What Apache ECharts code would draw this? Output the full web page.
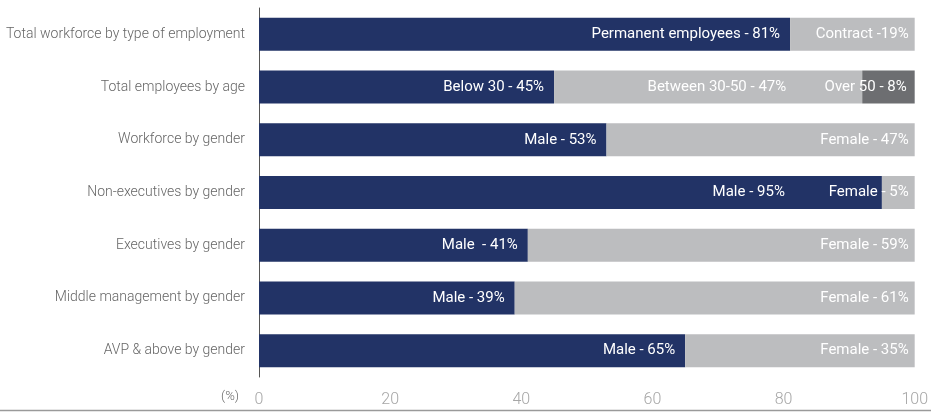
<!DOCTYPE html>
<html>
<head>
<meta charset="utf-8">
<script src="https://cdn.jsdelivr.net/npm/echarts@6/dist/echarts.min.js"></script>
<style>
html,body{margin:0;padding:0;background:#fff;}
#chart{width:931px;height:412px;}
</style>
</head>
<body>
<div id="chart"></div>
<script>
// ---- data ----
var categories = [
  'Total workforce by type of employment',
  'Total employees by age',
  'Workforce by gender',
  'Non-executives by gender',
  'Executives by gender',
  'Middle management by gender',
  'AVP & above by gender'
];
var seg1Values = [81, 45, 53, 95, 41, 39, 65];
var seg2Values = [19, 47, 47, 5, 59, 61, 35];
var seg3Values = [0, 8, 0, 0, 0, 0, 0];
var seg1Labels = ['Permanent employees - 81%', 'Below 30 - 45%', 'Male - 53%', 'Male - 95%', 'Male  - 41%', 'Male - 39%', 'Male - 65%'];
var seg2Labels = ['Contract -19%', 'Between 30-50 - 47%', 'Female - 47%', 'Female - 5%', 'Female - 59%', 'Female - 61%', 'Female - 35%'];
var seg3Labels = ['', 'Over 50 - 8%', '', '', '', '', ''];
var xTicks = [0, 20, 40, 60, 80, 100];

// ---- styling (not data) ----
var FONT = 'Roboto, "Liberation Sans", sans-serif';
var labelDistanceOverride = { s1: { 3: 97 }, s2: { 1: 76 } };

function buildData(values, labels, key, baseDist) {
  return values.map(function (v, i) {
    var d = (labelDistanceOverride[key] && labelDistanceOverride[key][i] != null) ? labelDistanceOverride[key][i] : baseDist;
    return {
      value: v,
      label: { show: labels[i] !== '' && v > 0, formatter: labels[i], distance: d }
    };
  });
}

var labelBase = {
  show: true,
  position: 'insideRight',
  color: '#ffffff',
  fontFamily: FONT,
  fontSize: 15
};

var chart = echarts.init(document.getElementById('chart'), null, { renderer: 'canvas' });
chart.setOption({
  animation: false,
  grid: { left: 259, right: 13, top: 8, bottom: 35, containLabel: false },
  xAxis: {
    type: 'value', min: xTicks[0], max: xTicks[xTicks.length - 1], interval: 20,
    axisLine: { show: false }, axisTick: { show: false }, splitLine: { show: false },
    axisLabel: { color: '#a6a6a6', fontFamily: FONT, fontSize: 16, fontWeight: 300, margin: 15 }
  },
  yAxis: {
    type: 'category', data: categories, inverse: true,
    axisLine: { show: true, lineStyle: { color: '#555555', width: 1 } },
    axisTick: { show: false },
    axisLabel: { color: '#666666', fontFamily: FONT, fontSize: 14, fontWeight: 300, margin: 14 }
  },
  series: [
    { type: 'bar', stack: 't', barWidth: 33, itemStyle: { color: '#223366' },
      label: Object.assign({}, labelBase, { distance: 10 }),
      data: buildData(seg1Values, seg1Labels, 's1', 10) },
    { type: 'bar', stack: 't', barWidth: 33, itemStyle: { color: '#bcbdbf' },
      label: Object.assign({}, labelBase, { distance: 6 }),
      data: buildData(seg2Values, seg2Labels, 's2', 6) },
    { type: 'bar', stack: 't', barWidth: 33, itemStyle: { color: '#6d6e71' },
      label: Object.assign({}, labelBase, { distance: 8 }),
      data: buildData(seg3Values, seg3Labels, 's3', 8) }
  ],
  graphic: [
    { type: 'line', shape: { x1: 0, y1: 410.5, x2: 931, y2: 410.5 }, style: { stroke: '#9a9a9a', lineWidth: 1.5 } },
    { type: 'text', left: 221, top: 390, style: { text: '(%)', fill: '#666666', font: '300 13px ' + FONT } }
  ]
});
</script>
</body>
</html>
